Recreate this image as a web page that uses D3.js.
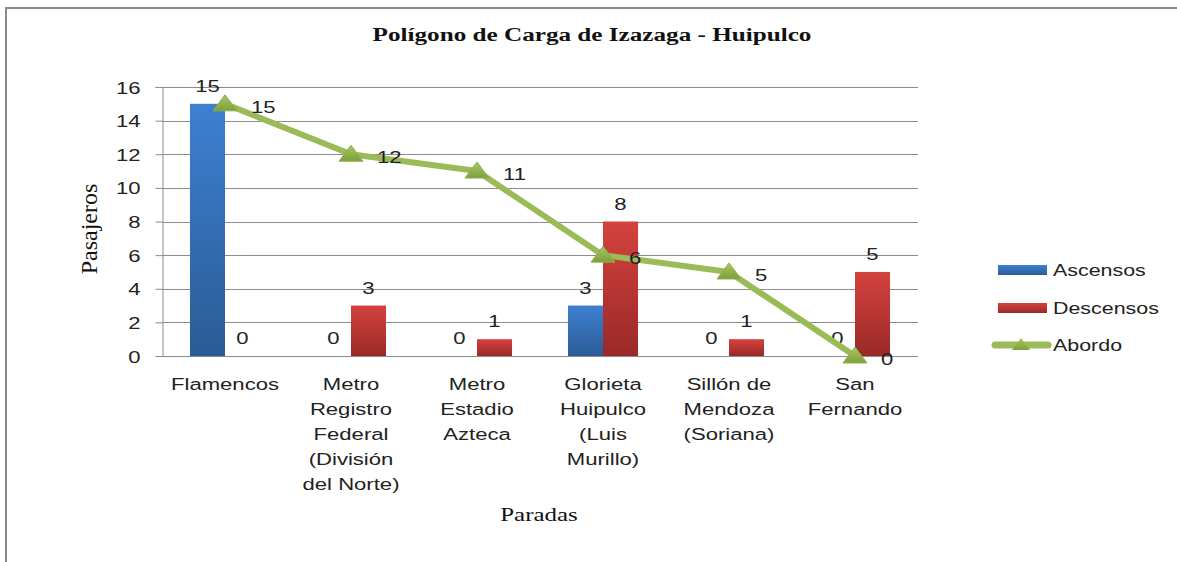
<!DOCTYPE html>
<html>
<head>
<meta charset="utf-8">
<script src="https://cdn.jsdelivr.net/npm/d3@7"></script>
<style>
  html, body { margin: 0; padding: 0; background: #fff; }
  svg { display: block; }
</style>
</head>
<body>
<svg id="chart" width="1177" height="562"></svg>
<script>
// ---- data ----
const categories = [
  ["Flamencos"],
  ["Metro", "Registro", "Federal", "(División", "del Norte)"],
  ["Metro", "Estadio", "Azteca"],
  ["Glorieta", "Huipulco", "(Luis", "Murillo)"],
  ["Sillón de", "Mendoza", "(Soriana)"],
  ["San", "Fernando"]
];
const ascensos  = [15, 0, 0, 3, 0, 0];
const descensos = [0, 3, 1, 8, 1, 5];
const abordo    = [15, 12, 11, 6, 5, 0];
const yTicks    = [0, 2, 4, 6, 8, 10, 12, 14, 16];
const seriesNames = ["Ascensos", "Descensos", "Abordo"];
const titleText = "Polígono de Carga de Izazaga - Huipulco";
const yTitle = "Pasajeros";
const xTitle = "Paradas";

// ---- layout ----
const svg = d3.select("#chart");
const pL = 162, pR = 918, pT = 87, pB = 356;
const SX = 1.3;
const sans = "'Liberation Sans', Arial, sans-serif";
const serif = "'Liberation Serif', 'Times New Roman', serif";

const defs = svg.append("defs");
function vgrad(id, c1, c2) {
  const g = defs.append("linearGradient").attr("id", id)
    .attr("x1", 0).attr("y1", 0).attr("x2", 0).attr("y2", 1);
  g.append("stop").attr("offset", "0%").attr("stop-color", c1);
  g.append("stop").attr("offset", "100%").attr("stop-color", c2);
}
vgrad("gBlue", "#3d80d2", "#2b5b96");
vgrad("gRed", "#d4423e", "#992a27");
vgrad("gGreen", "#a6c862", "#7f9f3e");

// frame
svg.append("line").attr("x1", 6).attr("x2", 6).attr("y1", 7).attr("y2", 562)
  .attr("stroke", "#8a8a8a").attr("stroke-width", 2);
svg.append("line").attr("x1", 5).attr("x2", 1177).attr("y1", 8).attr("y2", 8)
  .attr("stroke", "#8a8a8a").attr("stroke-width", 2);

const idx = d3.range(categories.length);
const x0 = d3.scaleBand().domain(idx).range([pL, pR])
  .paddingInner(0.444).paddingOuter(0.222);
const x1 = d3.scaleBand().domain([0, 1]).range([0, x0.bandwidth()]).padding(0);
const y = d3.scaleLinear().domain([0, 16]).range([pB, pT]);
const cx = i => x0(i) + x0.bandwidth() / 2;

function stext(sel, x, yy, sx) {
  return sel.attr("transform", `translate(${x},${yy}) scale(${sx},1)`);
}

// gridlines
svg.append("g").selectAll("line").data(yTicks).join("line")
  .attr("x1", pL).attr("x2", pR)
  .attr("y1", d => Math.round(y(d)) + 0.5).attr("y2", d => Math.round(y(d)) + 0.5)
  .attr("stroke", "#8c8c8c").attr("stroke-width", 1);

// y axis
const yAxis = svg.append("g").attr("transform", `translate(${pL + 0.5},0)`)
  .call(d3.axisLeft(y).tickValues(yTicks).tickSize(7).tickPadding(0));
yAxis.select(".domain").attr("stroke", "#8c8c8c");
yAxis.selectAll(".tick line").attr("stroke", "#8c8c8c");
yAxis.selectAll(".tick text").remove();
yAxis.selectAll(".tick").append("text")
  .attr("text-anchor", "end")
  .attr("font-family", sans).attr("font-size", 17).attr("fill", "#222")
  .attr("transform", `translate(-22,6) scale(${SX},1)`)
  .text(d => d);

// bars
const barG = svg.append("g");
barG.selectAll("rect.asc").data(idx).join("rect").attr("class", "asc")
  .attr("x", i => x0(i) + x1(0)).attr("width", x1.bandwidth())
  .attr("y", i => y(ascensos[i])).attr("height", i => y(0) - y(ascensos[i]))
  .attr("fill", "url(#gBlue)");
barG.selectAll("rect.des").data(idx).join("rect").attr("class", "des")
  .attr("x", i => x0(i) + x1(1)).attr("width", x1.bandwidth())
  .attr("y", i => y(descensos[i])).attr("height", i => y(0) - y(descensos[i]))
  .attr("fill", "url(#gRed)");

// bottom axis
svg.append("line").attr("x1", pL).attr("x2", pR)
  .attr("y1", pB + 0.5).attr("y2", pB + 0.5).attr("stroke", "#8c8c8c");

// bar labels
const lblG = svg.append("g").attr("font-family", sans).attr("font-size", 17)
  .attr("fill", "#222").attr("text-anchor", "middle");
idx.forEach(i => {
  stext(lblG.append("text"), x0(i) + x1(0) + x1.bandwidth() / 2, y(ascensos[i]) - 12, SX).text(ascensos[i]);
  stext(lblG.append("text"), x0(i) + x1(1) + x1.bandwidth() / 2, y(descensos[i]) - 12, SX).text(descensos[i]);
});

// abordo line
const line = d3.line().x(i => cx(i)).y(i => y(abordo[i]));
svg.append("path").datum(idx).attr("d", line)
  .attr("fill", "none").attr("stroke", "#9bbb59").attr("stroke-width", 6)
  .attr("stroke-linejoin", "round");
const tri = "M0,-9 L12,7 L-12,7 Z";
svg.append("g").selectAll("path").data(idx).join("path")
  .attr("d", tri)
  .attr("transform", i => `translate(${cx(i)},${y(abordo[i])})`)
  .attr("fill", "url(#gGreen)").attr("stroke", "#8eb04c").attr("stroke-width", 1);
const abG = svg.append("g").attr("font-family", sans).attr("font-size", 17)
  .attr("fill", "#222").attr("text-anchor", "start");
idx.forEach(i => {
  stext(abG.append("text"), cx(i) + 26, y(abordo[i]) + 9, SX).text(abordo[i]);
});

// category labels
const catG = svg.append("g").attr("font-family", sans).attr("font-size", 17)
  .attr("fill", "#222").attr("text-anchor", "middle");
idx.forEach(i => {
  categories[i].forEach((ln, k) => {
    stext(catG.append("text"), cx(i), 390 + k * 25, SX).text(ln);
  });
});

// titles
stext(svg.append("text").attr("font-family", serif).attr("font-size", 18.5)
  .attr("font-weight", "bold").attr("text-anchor", "middle").attr("fill", "#111"),
  592, 41, 1.36).text(titleText);
stext(svg.append("text").attr("font-family", serif).attr("font-size", 19.5)
  .attr("text-anchor", "middle").attr("fill", "#111"), 539, 521, 1.28).text(xTitle);
svg.append("text").attr("font-family", serif).attr("font-size", 24)
  .attr("text-anchor", "middle").attr("fill", "#111")
  .attr("transform", "translate(97,229) rotate(-90)").text(yTitle);

// legend
const lg = svg.append("g");
const lx = 998, lys = [270, 308, 345];
lg.append("rect").attr("x", lx).attr("y", lys[0] - 5).attr("width", 49).attr("height", 10).attr("fill", "url(#gBlue)");
lg.append("rect").attr("x", lx).attr("y", lys[1] - 5).attr("width", 49).attr("height", 10).attr("fill", "url(#gRed)");
lg.append("line").attr("x1", lx - 3).attr("x2", lx + 50).attr("y1", lys[2]).attr("y2", lys[2])
  .attr("stroke", "#9bbb59").attr("stroke-width", 7).attr("stroke-linecap", "round");
lg.append("path").attr("d", "M0,-7 L9,5 L-9,5 Z")
  .attr("transform", `translate(${lx + 23},${lys[2]})`).attr("fill", "url(#gGreen)");
seriesNames.forEach((n, k) => {
  stext(lg.append("text").attr("font-family", sans).attr("font-size", 17).attr("fill", "#222"),
    lx + 55, lys[k] + 6, 1.26).text(n);
});
</script>
</body>
</html>
